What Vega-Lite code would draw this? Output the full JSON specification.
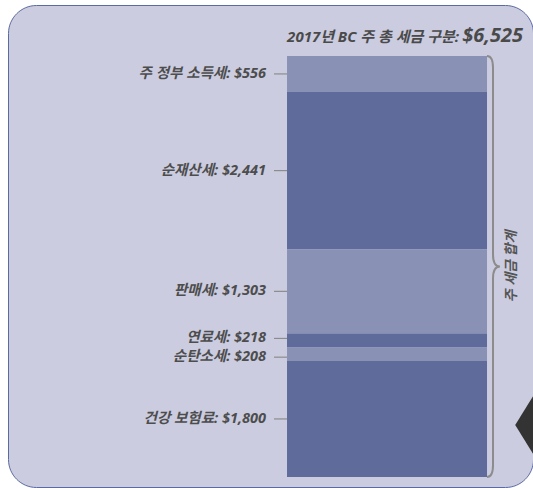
{
  "$schema": "https://vega.github.io/schema/vega-lite/v6.json",
  "width": 525,
  "height": 482,
  "autosize": {"type": "none"},
  "padding": {"left": 8, "top": 5, "right": 0, "bottom": 1},
  "background": "#ffffff",
  "config": {
    "view": {"fill": "#cbcce0", "stroke": "#5b6aa0", "strokeWidth": 1, "cornerRadius": 28},
    "font": "Open Sans, Noto Sans CJK KR",
    "text": {"font": "Open Sans, Noto Sans CJK KR"}
  },
  "data": {
    "values": [
      {"idx": 0, "region": "BC", "name": "주 정부 소득세", "amount": 556},
      {"idx": 1, "region": "BC", "name": "순재산세", "amount": 2441},
      {"idx": 2, "region": "BC", "name": "판매세", "amount": 1303},
      {"idx": 3, "region": "BC", "name": "연료세", "amount": 218},
      {"idx": 4, "region": "BC", "name": "순탄소세", "amount": 208},
      {"idx": 5, "region": "BC", "name": "건강 보험료", "amount": 1800}
    ]
  },
  "transform": [
    {"stack": "amount", "groupby": ["region"], "sort": [{"field": "idx", "order": "descending"}], "as": ["y0", "y1"]},
    {"calculate": "(datum.y0 + datum.y1) / 2", "as": "mid"},
    {"calculate": "datum.name + ': $' + format(datum.amount, ',')", "as": "label"},
    {"joinaggregate": [{"op": "sum", "field": "amount", "as": "total"}]},
    {"calculate": "datum.total / 2", "as": "half"}
  ],
  "encoding": {
    "x": {
      "field": "region",
      "type": "nominal",
      "scale": {"paddingInner": 0, "paddingOuter": 0.8125, "align": 0.8585},
      "axis": null
    }
  },
  "layer": [
    {
      "mark": {"type": "bar"},
      "encoding": {
        "y": {"field": "y1", "type": "quantitative", "scale": {"domain": [-155, 7316.5], "nice": false, "zero": false}, "axis": null},
        "y2": {"field": "y0"},
        "color": {
          "field": "name",
          "type": "nominal",
          "scale": {
            "domain": ["주 정부 소득세", "순재산세", "판매세", "연료세", "순탄소세", "건강 보험료"],
            "range": ["#8991b5", "#5f6b9b", "#8991b5", "#5f6b9b", "#8991b5", "#5f6b9b"]
          },
          "legend": null
        }
      }
    },
    {
      "mark": {"type": "point", "shape": "M-1,0 L1,0", "size": 169, "filled": false, "stroke": "#8c8c8c", "strokeWidth": 1.2, "opacity": 1, "xOffset": -6.5,
        "yOffset": {"expr": "datum.idx == 3 ? -2 : (datum.idx == 4 ? 3 : 0)"}},
      "encoding": {
        "x": {"field": "region", "type": "nominal", "bandPosition": 0},
        "y": {"field": "mid", "type": "quantitative", "axis": null}
      }
    },
    {
      "mark": {"type": "text", "align": "right", "baseline": "middle", "dx": -21, "fontSize": 14.5, "fontStyle": "italic", "fontWeight": "bold", "color": "#4d4d4d",
        "yOffset": {"expr": "datum.idx == 3 ? -2 : (datum.idx == 4 ? 3 : 0)"}},
      "encoding": {
        "x": {"field": "region", "type": "nominal", "bandPosition": 0},
        "y": {"field": "mid", "type": "quantitative", "axis": null},
        "text": {"field": "label"}
      }
    },
    {
      "transform": [{"filter": "datum.idx == 0"}],
      "mark": {"type": "text", "text": "$6,525", "align": "right", "baseline": "alphabetic", "dx": 36, "dy": -14, "fontSize": 20, "fontStyle": "italic", "fontWeight": "bold", "color": "#4a4a4a"},
      "encoding": {
        "x": {"field": "region", "type": "nominal", "bandPosition": 1},
        "y": {"field": "total", "type": "quantitative", "axis": null}
      }
    },
    {
      "transform": [{"filter": "datum.idx == 0"}],
      "mark": {"type": "text", "text": "2017년 BC 주 총 세금 구분:", "align": "right", "baseline": "alphabetic", "dx": -28, "dy": -14, "fontSize": 15, "fontStyle": "italic", "fontWeight": "bold", "color": "#4a4a4a"},
      "encoding": {
        "x": {"field": "region", "type": "nominal", "bandPosition": 1},
        "y": {"field": "total", "type": "quantitative", "axis": null}
      }
    },
    {
      "transform": [{"filter": "datum.idx == 0"}],
      "mark": {
        "type": "point",
        "shape": "M-0.0285,-1 Q0,-1 0,-0.943 L0,-0.057 Q0,0 0.033,0 Q0,0 0,0.057 L0,0.943 Q0,1 -0.0285,1",
        "size": 177241,
        "filled": false,
        "stroke": "#8c8c8c",
        "strokeWidth": 2,
        "opacity": 1,
        "xOffset": 6
      },
      "encoding": {
        "x": {"field": "region", "type": "nominal", "bandPosition": 1},
        "y": {"field": "half", "type": "quantitative", "axis": null}
      }
    },
    {
      "transform": [{"filter": "datum.idx == 0"}],
      "mark": {"type": "text", "text": "주 세금 합계", "angle": 270, "align": "center", "baseline": "middle", "xOffset": 25, "fontSize": 14, "fontStyle": "italic", "fontWeight": "bold", "color": "#555555"},
      "encoding": {
        "x": {"field": "region", "type": "nominal", "bandPosition": 1},
        "y": {"field": "half", "type": "quantitative", "axis": null}
      }
    },
    {
      "transform": [{"filter": "datum.idx == 5"}],
      "mark": {"type": "point", "shape": "M-0.62,0 L0,-1 L0.62,0 L0,1 Z", "size": 6400, "filled": true, "color": "#333333", "opacity": 1, "xOffset": 53, "yOffset": 6},
      "encoding": {
        "x": {"field": "region", "type": "nominal", "bandPosition": 1},
        "y": {"field": "mid", "type": "quantitative", "axis": null}
      }
    }
  ]
}
